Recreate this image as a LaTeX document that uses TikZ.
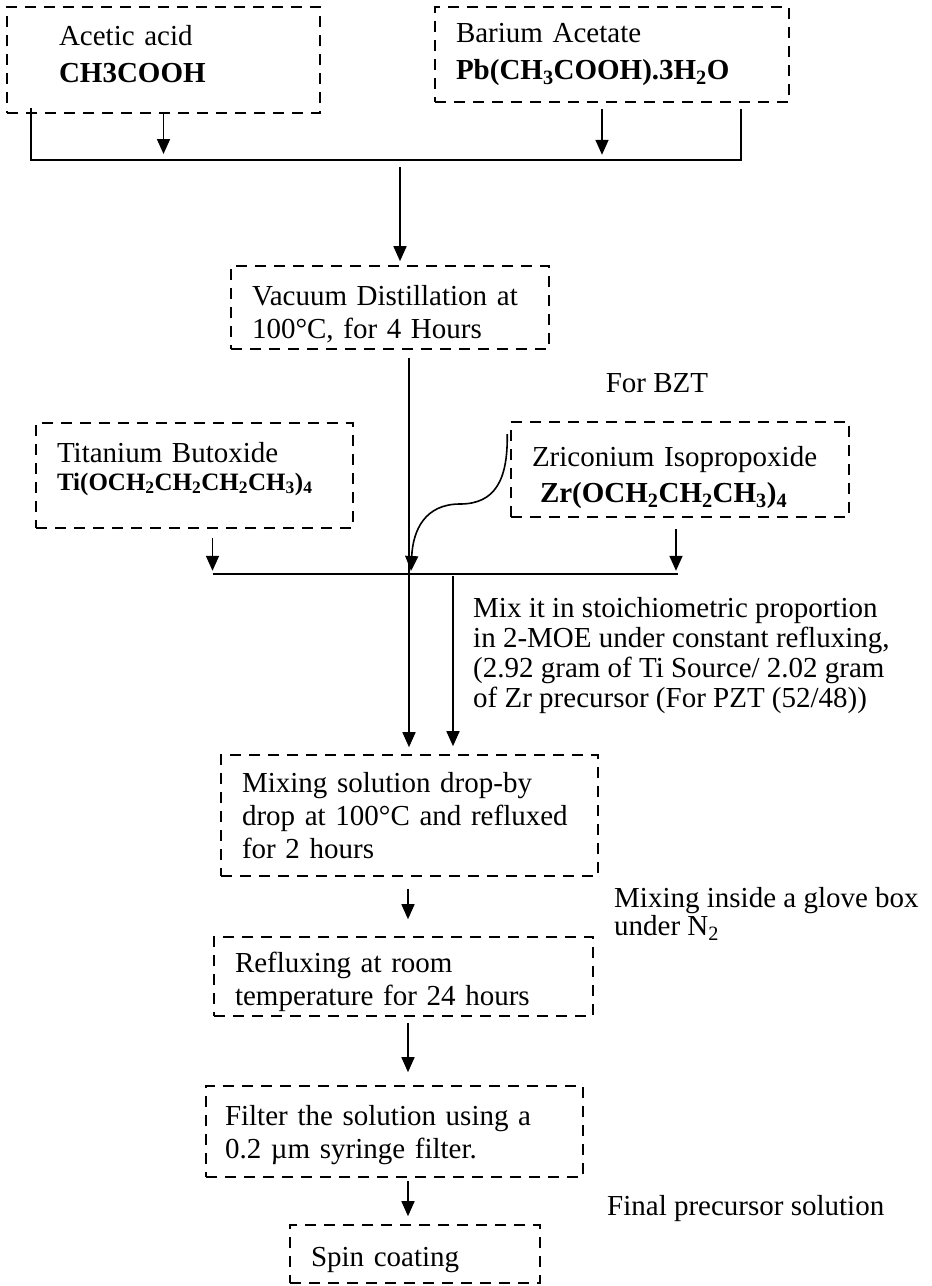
\documentclass[tikz,border=0pt]{standalone}
\usepackage{fontspec}
\setmainfont{Liberation Serif}
\usetikzlibrary{arrows.meta,calc}
\tikzset{
 stage/.style={draw,dash pattern=on 11pt off 8pt,line width=1.6pt,align=left,inner ysep=0pt,font=\fontsize{29}{33}\selectfont},
 note/.style={align=left,inner sep=0pt,font=\fontsize{29}{30}\selectfont},
 flow/.style={line width=1.6pt,-{Triangle[length=15pt,width=13pt]}},
 bar/.style={line width=1.6pt}
}
\begin{document}
\begin{tikzpicture}[x=1pt,y=-1pt]
 \useasboundingbox (0,0) rectangle (932,1286);
 \node[stage,font=\fontsize{29}{37}\selectfont,text width=209pt,inner xsep=52pt,minimum height=106pt] (acid) at (163.5,60) {Acetic acid\\\textbf{CH3COOH}\\[-25pt]\mbox{}};
 \node[stage,font=\fontsize{29}{37}\selectfont,text width=312pt,inner xsep=21pt,minimum height=95pt] (baac) at (612,54.5) {Barium Acetate\\\textbf{Pb(CH\textsubscript{3}COOH).3H\textsubscript{2}O}};
 \node[stage,text width=276pt,inner xsep=21pt,minimum height=83pt] (vac) at (390,307.5) {\mbox{}\\Vacuum Distillation at\\100°C, for 4 Hours};
 \node[stage,text width=275pt,inner xsep=21pt,minimum height=105pt] (ti) at (194.5,475.5) {Titanium Butoxide\\[-5pt]{\fontsize{25}{30}\selectfont\bfseries Ti(OCH\textsubscript{2}CH\textsubscript{2}CH\textsubscript{2}CH\textsubscript{3})\textsubscript{4}}\\[-14pt]\mbox{}};
 \node[stage,text width=296pt,inner xsep=21pt,minimum height=95pt] (zr) at (680,469.5) {\mbox{}\\[4pt]Zriconium Isopropoxide\\[3pt]\hspace*{8pt}\textbf{Zr(OCH\textsubscript{2}CH\textsubscript{2}CH\textsubscript{3})\textsubscript{4}}};
 \node[stage,text width=335pt,inner xsep=21pt,minimum height=121pt] (mix) at (409.5,815.5) {Mixing solution drop-by\\drop at 100°C and refluxed\\for 2 hours};
 \node[stage,text width=337pt,inner xsep=21pt,minimum height=79pt] (reflux) at (403.5,976.5) {\mbox{}\\[-2pt]Refluxing at room\\temperature for 24 hours};
 \node[stage,text width=339pt,inner xsep=19pt,minimum height=91pt] (filter) at (394.5,1131.5) {\mbox{}\\[-6pt]Filter the solution using a\\0.2 µm syringe filter.};
 \node[stage,text width=208pt,inner xsep=21pt,minimum height=58pt] (spin) at (415,1254) {\mbox{}\\[-2pt]Spin coating};
 \node[note] (bzt) at (657,383) {For BZT};
 \node[note,anchor=west] (ratio) at (473,656) {Mix it in stoichiometric proportion\\in 2-MOE under constant refluxing,\\(2.92 gram of Ti Source/ 2.02 gram\\of Zr precursor (For PZT (52/48))};
 \node[note,anchor=west,font=\fontsize{29}{28}\selectfont] (glove) at (614,914) {Mixing inside a glove box\\under N\textsubscript{2}};
 \node[note,anchor=west] (final) at (607,1209) {Final precursor solution};
 \coordinate (bus1) at (400,160);
 \coordinate (bus2) at (409,573);
 \coordinate (axis) at (408,0);
 \coordinate (trunk) at ($(vac.south)+(19,8)$);
 \coordinate (side) at ($(bus2)+(44,3)$);
 \draw[bar] ($(acid.south west)+(25,-6)$) |- (bus1) -| ($(baac.south east)+(-49,6)$);
 \draw[flow,shorten >=6pt] (acid.south) -- (acid.south |- bus1);
 \draw[flow] ($(baac.south)+(-10,6)$) -- ++(0,46);
 \draw[flow,shorten <=7pt,shorten >=4pt] (bus1) -- (vac.north -| bus1);
 \draw[flow,shorten >=7pt] (trunk) -- (trunk |- mix.north);
 \draw[bar] ($(ti.south)+(18,45)$) -- ($(zr.south)+(-2,56)$);
 \draw[flow] ($(ti.south)+(18,9)$) -- ++(0,33);
 \draw[flow] ($(zr.south)+(-4,11)$) -- ++(0,42);
 \draw[flow] ($(zr.north west)+(-3,13)$) .. controls (508,480) and (495,504) .. (460,504)
   .. controls (425,504) and (413,530) .. (411,571);
 \draw[flow,shorten >=8pt] (side) -- (side |- mix.north);
 \draw[flow,shorten <=12pt,shorten >=17pt] (mix.south -| axis) -- (reflux.north -| axis);
 \draw[flow,shorten <=6pt,shorten >=13pt] (reflux.south -| axis) -- (filter.north -| axis);
 \draw[flow,shorten <=3pt,shorten >=8pt] (filter.south -| axis) -- (spin.north -| axis);
\end{tikzpicture}
\end{document}
